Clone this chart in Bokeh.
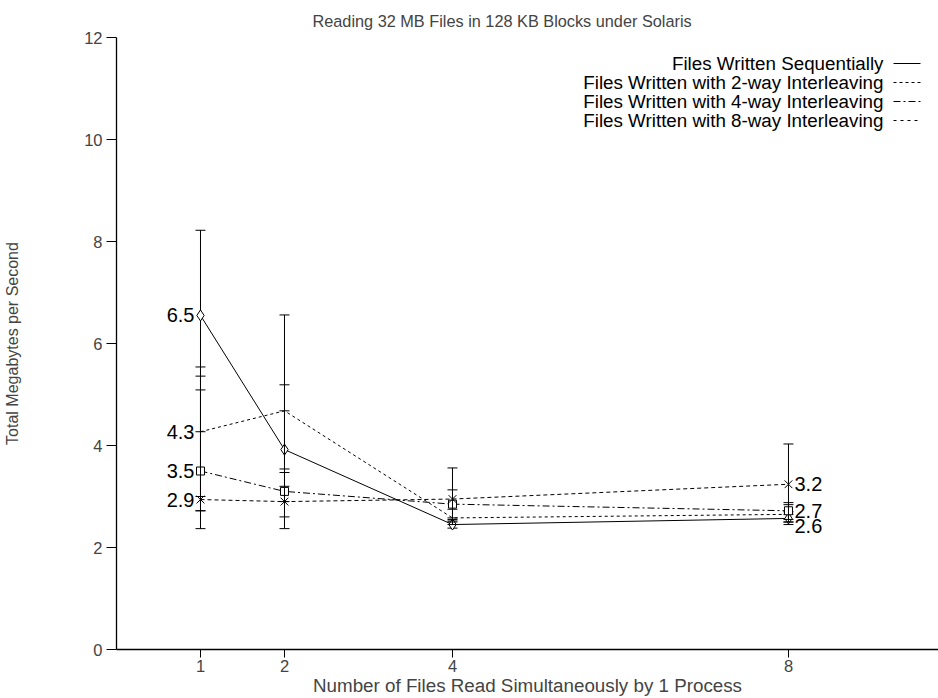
from bokeh.plotting import figure
from bokeh.models import Range1d, FixedTicker, Label, Arrow, ColumnDataSource
from bokeh.core.properties import value
from bokeh.embed import file_html
from bokeh.resources import INLINE

# ---- data ----
files = [1, 2, 4, 8]
series_names = [
    "Files Written Sequentially",
    "Files Written with 2-way Interleaving",
    "Files Written with 4-way Interleaving",
    "Files Written with 8-way Interleaving",
]
seq_mean = [6.55, 3.92, 2.45, 2.57]
seq_low = [2.37, 2.37, 2.38, 2.45]
seq_high = [8.22, 6.56, 2.52, 2.70]

way2_mean = [4.27, 4.68, 2.58, 2.65]
way2_low = [2.72, 3.47, 2.45, 2.50]
way2_high = [5.54, 5.19, 2.75, 2.84]

way4_mean = [3.50, 3.10, 2.85, 2.72]
way4_low = [3.00, 2.90, 2.50, 2.55]
way4_high = [5.36, 3.54, 3.13, 2.88]

way8_mean = [2.94, 2.90, 2.95, 3.24]
way8_low = [2.72, 2.60, 2.55, 2.50]
way8_high = [5.09, 3.20, 3.56, 4.03]

x_ticks = [1, 2, 4, 8]
y_ticks = [0, 2, 4, 6, 8, 10, 12]

# point labels: (series index, file-count index, text)
point_labels = [
    (0, 0, "6.5"), (1, 0, "4.3"), (2, 0, "3.5"), (3, 0, "2.9"),
    (3, 3, "3.2"), (2, 3, "2.7"), (0, 3, "2.6"),
]

FONT = "Liberation Sans"

p = figure(width=938, height=698, output_backend="svg", toolbar_location=None,
           x_range=Range1d(0, 9.786), y_range=Range1d(0, 12),
           min_border_left=116, min_border_right=0, min_border_top=37,
           min_border_bottom=48,
           title="Reading 32 MB Files in 128 KB Blocks under Solaris")
p.title.text_font = FONT
p.title.text_font_size = "16.3px"
p.title.text_font_style = "normal"
p.title.align = "left"
p.title.offset = 196
p.title.standoff = 15
p.outline_line_color = None
p.grid.visible = False
p.background_fill_color = "white"
p.border_fill_color = "white"

for ax in (p.xaxis[0], p.yaxis[0]):
    ax.axis_line_color = "black"
    ax.axis_line_width = 1.3
    ax.major_tick_line_color = "black"
    ax.minor_tick_line_color = None
    ax.major_tick_in = 0
    ax.major_label_text_font = FONT
    ax.major_label_text_font_size = "16.5px"
    ax.axis_label_text_font = FONT
    ax.axis_label_text_font_style = "normal"

p.xaxis.ticker = FixedTicker(ticks=x_ticks)
p.xaxis.major_tick_out = 8
p.xaxis.major_label_standoff = 2
p.xaxis.axis_label = "Number of Files Read Simultaneously by 1 Process"
p.xaxis.axis_label_text_font_size = "18.8px"
p.xaxis.axis_label_standoff = 0

p.yaxis.ticker = FixedTicker(ticks=y_ticks)
p.yaxis.major_tick_out = 10
p.yaxis.major_label_standoff = 4
p.yaxis.axis_label = "Total Megabytes per Second"
p.yaxis.axis_label_text_font_size = "16px"
p.yaxis.axis_label_standoff = 60

series = [
    (seq_mean, seq_low, seq_high, "solid", "diamond", 11),
    (way2_mean, way2_low, way2_high, "3 3", "cross", 10),
    (way4_mean, way4_low, way4_high, "7 3 2 3", "square", 8),
    (way8_mean, way8_low, way8_high, "4 3", "x", 11),
]

for mean, low, high, dash, marker, msize in series:
    src = ColumnDataSource(dict(x=files, y=mean, lo=low, hi=high))
    p.line("x", "y", source=src, line_color="black", line_width=1, line_dash=dash)
    p.segment(x0="x", y0="lo", x1="x", y1="hi", source=src, line_color="black", line_width=1)
    p.scatter("x", "lo", source=src, marker="dash", size=10, line_color="black", line_width=1)
    p.scatter("x", "hi", source=src, marker="dash", size=10, line_color="black", line_width=1)
    p.scatter("x", "y", source=src, marker=marker, size=msize, line_color="black",
              fill_color="white", line_width=1)

means = [s[0] for s in series]
lab_offsets = {(0, 3): 8}
for si, fi, txt in point_labels:
    left = fi == 0
    yoff = lab_offsets.get((si, fi), 0)
    p.text(x=[files[fi]], y=[means[si][fi]], text=[txt],
           text_font=value(FONT), text_font_size="20px",
           text_align="right" if left else "left", text_baseline="middle",
           x_offset=-6 if left else 6, y_offset=yoff, text_color="black")

# legend (text right-aligned, line sample on the right); screen units are frame-relative
legend_dashes = ["solid", "3 3", "7 3 2 3", "3 4"]
for i, (name, dash) in enumerate(zip(series_names, legend_dashes)):
    yy = 586 - 19 * i
    p.add_layout(Label(x=767, y=yy, x_units="screen", y_units="screen", text=name,
                       text_font=FONT, text_font_size="18.8px", text_align="right",
                       text_baseline="middle", text_color="black"))
    p.add_layout(Arrow(x_start=777, y_start=yy, x_end=804, y_end=yy,
                       start_units="screen", end_units="screen", end=None,
                       line_color="black", line_width=1, line_dash=dash))

open("out.html", "w").write(file_html(p, INLINE))
